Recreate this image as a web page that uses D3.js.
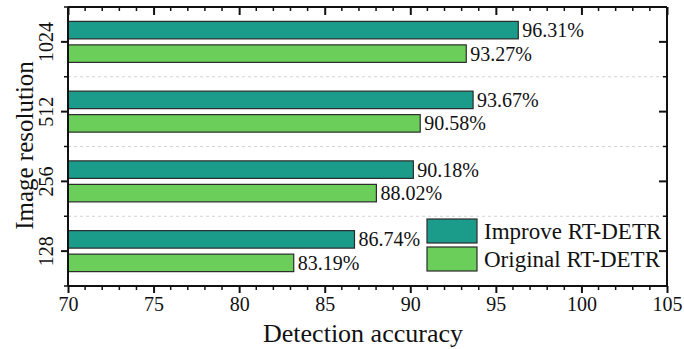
<!DOCTYPE html>
<html>
<head>
<meta charset="utf-8">
<script src="https://cdn.jsdelivr.net/npm/d3@7"></script>
<style>
  html, body { margin: 0; padding: 0; background: #fff; }
  svg { display: block; font-family: "Liberation Serif", "Times New Roman", serif; }
</style>
</head>
<body>
<svg id="chart" width="684" height="349"></svg>
<script>
// Resolutions (top to bottom) and detection accuracy per model
const resolutions = ["1024", "512", "256", "128"];
const improveAcc  = [96.31, 93.67, 90.18, 86.74];
const originalAcc = [93.27, 90.58, 88.02, 83.19];
const seriesNames = ["Improve RT-DETR", "Original RT-DETR"];
const seriesColors = ["#1b9c8b", "#6bce5b"];
const xTicks = [70, 75, 80, 85, 90, 95, 100, 105];

const svg = d3.select("#chart");
const margin = { top: 7, right: 17, bottom: 63, left: 68 };
const W = 684, H = 349;
const iw = W - margin.left - margin.right;
const ih = H - margin.top - margin.bottom;
const g = svg.append("g").attr("transform", `translate(${margin.left},${margin.top})`);

const x = d3.scaleLinear().domain([70, 105]).range([0, iw]);
const y = d3.scaleBand().domain(resolutions).range([0, ih]).padding(0);
const step = y.bandwidth();
const barH = 17.5, gap = 3;

// dashed separators between resolution groups
const seps = resolutions.slice(1).map(r => y(r));
g.selectAll("line.sep").data(seps).join("line")
  .attr("x1", 0).attr("x2", iw).attr("y1", d => d).attr("y2", d => d)
  .attr("stroke", "#c8c8c8").attr("stroke-width", 0.8).attr("stroke-dasharray", "3,3");

const rows = resolutions.map((r, i) => ({ r, imp: improveAcc[i], orig: originalAcc[i] }));

function drawBars(key, color, offset) {
  g.selectAll(`rect.${key}`).data(rows).join("rect")
    .attr("class", key)
    .attr("x", x(70))
    .attr("y", d => y(d.r) + step / 2 + offset)
    .attr("width", d => x(d[key]) - x(70))
    .attr("height", barH)
    .attr("fill", color)
    .attr("stroke", "#2b2b2b").attr("stroke-width", 1.2);
  g.selectAll(`text.${key}`).data(rows).join("text")
    .attr("class", key)
    .attr("x", d => x(d[key]) + 4)
    .attr("y", d => y(d.r) + step / 2 + offset + barH / 2)
    .attr("dy", "0.35em")
    .attr("font-size", 20)
    .attr("fill", "#111")
    .text(d => d[key].toFixed(2) + "%");
}
drawBars("imp", seriesColors[0], -gap - barH);
drawBars("orig", seriesColors[1], gap);

// minor tick values (every 1 unit) for horizontal axes
const minor = d3.range(70, 106, 1).filter(v => v % 5 !== 0);

// bottom axis: ticks outward
const axisB = g.append("g").attr("transform", `translate(0,${ih})`);
axisB.call(d3.axisBottom(x).tickValues(xTicks).tickSize(7).tickPadding(4).tickFormat(d3.format("d")));
axisB.selectAll("text").attr("font-size", 20).attr("fill", "#111").attr("font-family", "Liberation Serif, serif");
axisB.selectAll("line, path").attr("stroke", "#111").attr("stroke-width", 2);
axisB.select(".domain").attr("d", `M0,0H${iw}`);
axisB.selectAll("line.minor").data(minor).join("line").attr("class", "minor")
  .attr("x1", d => x(d)).attr("x2", d => x(d)).attr("y1", 0).attr("y2", 4)
  .attr("stroke", "#111").attr("stroke-width", 1.5);

// top axis: ticks inward
const axisT = g.append("g");
axisT.call(d3.axisTop(x).tickValues(xTicks).tickSize(-8).tickFormat(""));
axisT.selectAll("line, path").attr("stroke", "#111").attr("stroke-width", 2);
axisT.select(".domain").attr("d", `M0,0H${iw}`);
axisT.selectAll("line.minor").data(minor).join("line").attr("class", "minor")
  .attr("x1", d => x(d)).attr("x2", d => x(d)).attr("y1", 0).attr("y2", 4)
  .attr("stroke", "#111").attr("stroke-width", 1.5);

// left axis: category ticks outward, separator ticks short
const axisL = g.append("g");
axisL.call(d3.axisLeft(y).tickSize(7).tickPadding(10));
axisL.selectAll("line, path").attr("stroke", "#111").attr("stroke-width", 2);
axisL.select(".domain").attr("d", `M0,0V${ih}`);
axisL.selectAll(".tick text")
  .attr("font-size", 20).attr("fill", "#111").attr("font-family", "Liberation Serif, serif")
  .attr("transform", "rotate(-90)")
  .attr("x", 0).attr("y", -15).attr("dy", "0").attr("text-anchor", "middle");
const edges = [0].concat(seps, [ih]);
axisL.selectAll("line.minor").data(edges).join("line").attr("class", "minor")
  .attr("x1", -4).attr("x2", 0).attr("y1", d => d).attr("y2", d => d)
  .attr("stroke", "#111").attr("stroke-width", 1.5);

// right axis: ticks inward
const axisR = g.append("g").attr("transform", `translate(${iw},0)`);
axisR.call(d3.axisRight(y).tickSize(-8).tickFormat(""));
axisR.selectAll("line, path").attr("stroke", "#111").attr("stroke-width", 2);
axisR.select(".domain").attr("d", `M0,0V${ih}`);
axisR.selectAll("line.minor").data(seps).join("line").attr("class", "minor")
  .attr("x1", -4).attr("x2", 0).attr("y1", d => d).attr("y2", d => d)
  .attr("stroke", "#111").attr("stroke-width", 1.5);

// axis titles
svg.append("text")
  .attr("x", 363).attr("y", 342)
  .attr("text-anchor", "middle").attr("font-size", 26).attr("fill", "#111")
  .text("Detection accuracy");
svg.append("text")
  .attr("transform", `translate(33,${margin.top + ih / 2 - 1}) rotate(-90)`)
  .attr("text-anchor", "middle").attr("font-size", 25).attr("fill", "#111")
  .text("Image resolution");

// legend
const legend = svg.append("g").attr("transform", "translate(427,219)");
seriesNames.forEach((name, i) => {
  const row = legend.append("g").attr("transform", `translate(0,${i * 28})`);
  row.append("rect").attr("width", 50).attr("height", 24)
    .attr("fill", seriesColors[i]).attr("stroke", "#2b2b2b").attr("stroke-width", 1.2);
  row.append("text").attr("x", 57).attr("y", 12).attr("dy", "0.35em")
    .attr("font-size", 23).attr("fill", "#111").text(name);
});
</script>
</body>
</html>
